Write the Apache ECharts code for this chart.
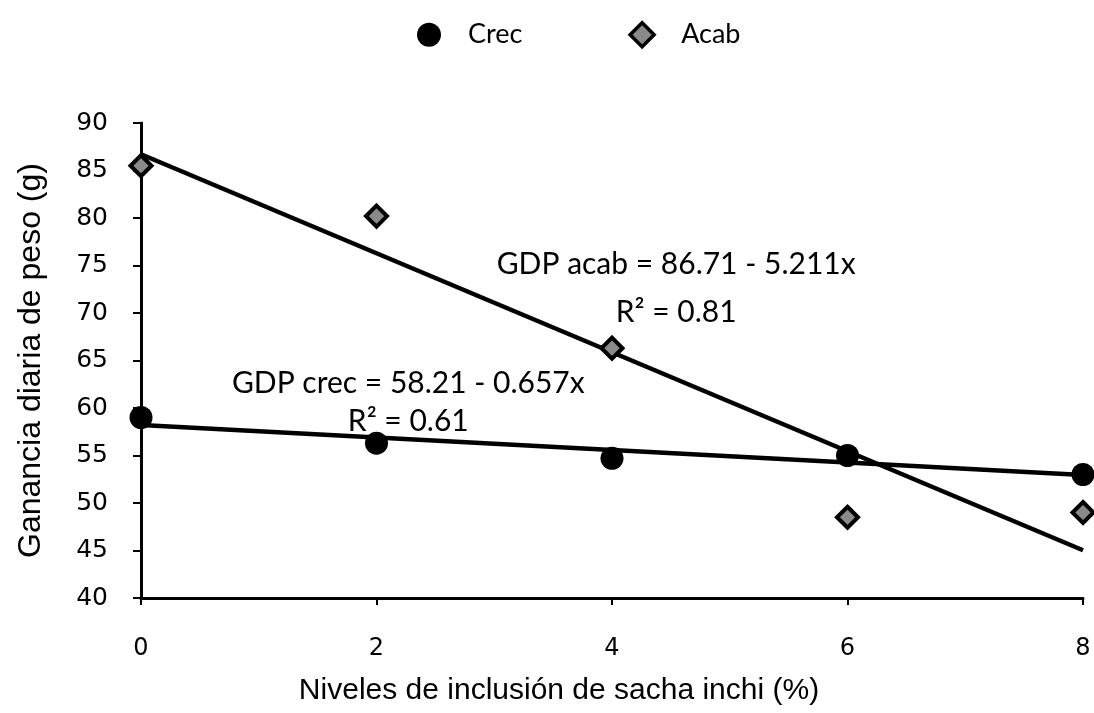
<!DOCTYPE html>
<html>
<head>
<meta charset="utf-8">
<script src="https://cdn.jsdelivr.net/npm/echarts@6/dist/echarts.min.js"></script>
<style>
  html, body { margin: 0; padding: 0; background: #fff; }
  #chart { width: 1094px; height: 713px; }
</style>
</head>
<body>
<div id="chart"></div>
<script>
// Inclusion levels of sacha inchi (%)
const levels = [0, 2, 4, 6, 8];
// Daily weight gain (g), growth phase
const crec = [59.0, 56.3, 54.7, 55.0, 53.0];
// Daily weight gain (g), finishing phase
const acab = [85.5, 80.2, 66.3, 48.5, 49.0];
// Fitted linear regressions
const crecFit = { a: 58.21, b: -0.657, r2: 0.61 };
const acabFit = { a: 86.71, b: -5.211, r2: 0.81 };
const xTicks = [0, 2, 4, 6, 8];
const yTicks = [40, 45, 50, 55, 60, 65, 70, 75, 80, 85, 90];

const pairs = (xs, ys) => xs.map((x, i) => [x, ys[i]]);
const fitLine = f => [[0, f.a], [8, f.a + f.b * 8]];

const chart = echarts.init(document.getElementById('chart'));
const fontTick = 'DejaVu Sans';
const fontText = 'Liberation Sans';

chart.setOption({
  animation: false,
  backgroundColor: '#fff',
  legend: {
    top: 16,
    left: 412,
    itemGap: 106,
    itemWidth: 24,
    itemHeight: 24,
    textStyle: { fontFamily: 'Lato', fontSize: 27, color: '#000', padding: [0, 0, 0, 22] },
    data: [
      { name: 'Crec', icon: 'circle', itemStyle: { color: '#000', opacity: 1 } },
      { name: 'Acab', icon: 'diamond', itemStyle: { color: '#8a8a8a', borderColor: '#000', borderWidth: 3.5, opacity: 1 } }
    ]
  },
  grid: { left: 141, right: 11, top: 123, bottom: 115 },
  xAxis: {
    type: 'value', min: 0, max: 8, interval: 2,
    name: 'Niveles de inclusión de sacha inchi (%)',
    nameLocation: 'middle', nameGap: 78,
    nameTextStyle: { fontFamily: fontText, fontSize: 30, color: '#000', padding: [0, 106, 0, 0] },
    axisLine: { onZero: false, lineStyle: { color: '#000', width: 3 } },
    axisTick: { show: true, length: 7, lineStyle: { color: '#000', width: 2 } },
    axisLabel: {
      fontFamily: fontTick, fontSize: 24, color: '#000', margin: 39,
      formatter: v => xTicks.includes(v) ? String(v) : ''
    },
    splitLine: { show: false }
  },
  yAxis: {
    type: 'value', min: 40, max: 90, interval: 5,
    name: 'Ganancia diaria de peso (g)',
    nameLocation: 'middle', nameGap: 94, nameRotate: 90,
    nameTextStyle: { fontFamily: fontText, fontSize: 32, color: '#000' },
    axisLine: { onZero: false, lineStyle: { color: '#000', width: 3 } },
    axisTick: { show: true, length: 8, lineStyle: { color: '#000', width: 2 } },
    axisLabel: {
      fontFamily: fontTick, fontSize: 25, color: '#000', margin: 33,
      formatter: v => yTicks.includes(v) ? String(v) : ''
    },
    splitLine: { show: false }
  },
  series: [
    {
      name: 'Crec trend', type: 'line', data: fitLine(crecFit),
      symbol: 'none', lineStyle: { color: '#000', width: 4.5 }, z: 2, silent: true
    },
    {
      name: 'Acab trend', type: 'line', data: fitLine(acabFit),
      symbol: 'none', lineStyle: { color: '#000', width: 4.5 }, z: 2, silent: true
    },
    {
      name: 'Acab', type: 'scatter', data: pairs(levels, acab),
      symbol: 'diamond', symbolSize: 21,
      itemStyle: { color: '#8a8a8a', borderColor: '#000', borderWidth: 4, opacity: 1 }, z: 3
    },
    {
      name: 'Crec', type: 'scatter', data: pairs(levels, crec),
      symbol: 'circle', symbolSize: 23,
      itemStyle: { color: '#000', opacity: 1 }, z: 4
    }
  ]
});

// Regression equations placed in data coordinates
const eqStyle = { fontFamily: 'Lato', fontSize: 30, fill: '#000', textAlign: 'center', textVerticalAlign: 'middle' };
const label = (x, y, text) => {
  const p = chart.convertToPixel({ gridIndex: 0 }, [x, y]);
  return { type: 'text', x: p[0], y: p[1], style: Object.assign({ text }, eqStyle), z: 10 };
};
chart.setOption({
  graphic: [
    label(4.545, 75.1, 'GDP acab = ' + acabFit.a.toFixed(2) + ' - ' + Math.abs(acabFit.b).toFixed(3) + 'x'),
    label(4.545, 70.1, 'R² = ' + acabFit.r2.toFixed(2)),
    label(2.27, 62.6, 'GDP crec = ' + crecFit.a.toFixed(2) + ' - ' + Math.abs(crecFit.b).toFixed(3) + 'x'),
    label(2.27, 58.6, 'R² = ' + crecFit.r2.toFixed(2))
  ]
});
</script>
</body>
</html>
